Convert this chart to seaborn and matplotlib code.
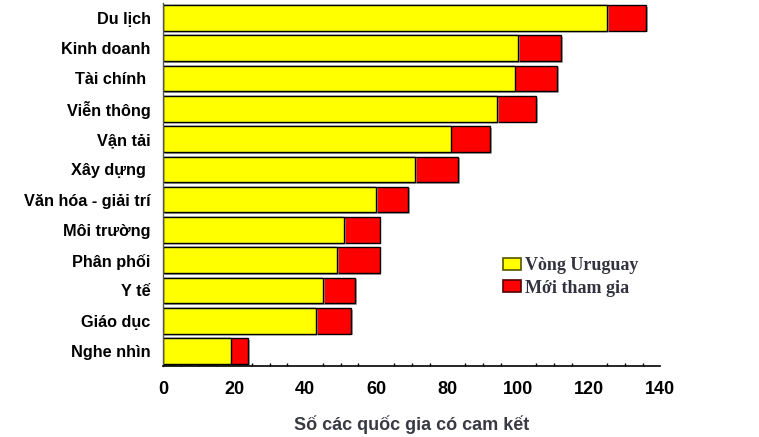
import matplotlib
matplotlib.use("Agg")
import matplotlib.pyplot as plt
import matplotlib.patheffects as pe
from matplotlib.ticker import MultipleLocator
from matplotlib.patches import Patch
import seaborn as sns
import numpy as np

# du lieu doc tu hinh
nganh = ["Du lịch", "Kinh doanh", "Tài chính ", "Viễn thông", "Vận tải", "Xây dựng ",
         "Văn hóa - giải trí", "Môi trường", "Phân phối", "Y tế", "Giáo dục", "Nghe nhìn"]
vong_uruguay = [125, 100, 99, 94, 81, 71, 60, 51, 49, 45, 43, 19]
moi_tham_gia = [11, 12, 12, 11, 11, 12, 9, 10, 12, 9, 10, 5]

tong = np.array(vong_uruguay) + np.array(moi_tham_gia)

sns.set_theme(style="white")
plt.rcParams['font.family'] = ['Liberation Sans', 'DejaVu Sans']

fig = plt.figure(figsize=(7.59, 4.37), dpi=100)
ax = fig.add_axes([0.215, 0.162, 0.655, 0.831])

# ve tong (do) truoc, roi vang len tren
sns.barplot(x=tong, y=nganh, order=nganh, orient="h", color="#ff0000",
            edgecolor="black", linewidth=1.0, width=0.845, saturation=1, ax=ax)
sns.barplot(x=vong_uruguay, y=nganh, order=nganh, orient="h", color="#ffff00",
            edgecolor="black", linewidth=1.0, width=0.845, saturation=1, ax=ax)

for p in ax.patches:
    p.set_path_effects([pe.SimplePatchShadow(offset=(1.2, -1.2), shadow_rgbFace="#999999", alpha=0.8),
                        pe.Normal()])

ax.set_xlim(0, 140)
ax.set_ylim(11.5, -0.49)
ax.xaxis.set_major_locator(MultipleLocator(20))
ax.xaxis.set_minor_locator(MultipleLocator(5))
ax.tick_params(axis="x", which="major", direction="out", length=7, width=1, color="black",
               labelsize=13, pad=4)
ax.tick_params(axis="x", which="minor", direction="in", length=2.5, width=1, color="black", bottom=True)
ax.tick_params(axis="y", length=0, labelsize=11.7, pad=9)
for t in ax.get_xticklabels() + ax.get_yticklabels():
    t.set_fontweight("bold")
    t.set_color("black")

for s in ["top", "right"]:
    ax.spines[s].set_visible(False)
ax.spines["bottom"].set_color("black")
ax.spines["bottom"].set_linewidth(1.2)
ax.spines["left"].set_color("#555555")
ax.spines["left"].set_linewidth(1.0)

ax.set_ylabel("")
ax.set_xlabel("Số các quốc gia có cam kết", fontsize=13, fontweight="bold", color="#3a3a44", labelpad=12)

handles = [Patch(facecolor="#ffff00", edgecolor="#555500", linewidth=1.2),
           Patch(facecolor="#ff0000", edgecolor="#550000", linewidth=1.2)]
leg = ax.legend(handles, ["Vòng Uruguay", "Mới tham gia"], loc="upper left",
                bbox_to_anchor=(0.65, 0.345), frameon=False, handlelength=1.0,
                handleheight=0.6, handletextpad=0.25, labelspacing=0.3,
                prop={"family": "Liberation Serif", "weight": "bold", "size": 13})
for t in leg.get_texts():
    t.set_color("#333340")

plt.savefig("out.png", dpi=100)
